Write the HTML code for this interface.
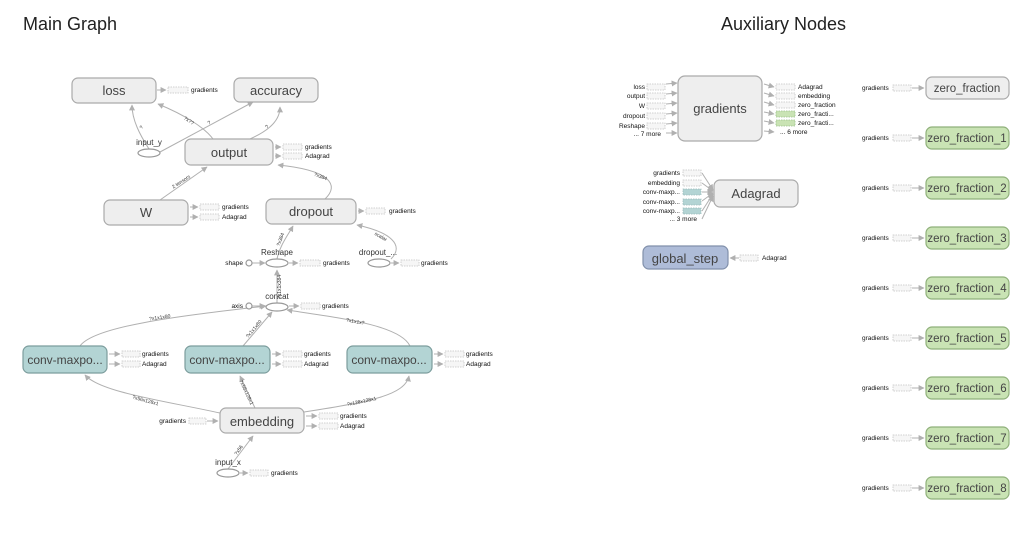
<!DOCTYPE html>
<html><head><meta charset="utf-8"><style>
body{margin:0;background:#fff;}
svg{display:block;font-family:"Liberation Sans",Arial,sans-serif;}
.t{font-size:18px;fill:#222;}
.n{fill:#eee;stroke:#aaa;stroke-width:1.2;}
.c{fill:#b3d4d4;stroke:#7c9d9d;stroke-width:1.2;}
.g{fill:#c9e3b4;stroke:#8fb07a;stroke-width:1.2;}
.b{fill:#aebcd8;stroke:#8190ab;stroke-width:1.2;}
.nl{font-size:13px;fill:#444;text-anchor:middle;}
.zf{font-size:11.5px;}
.cv{font-size:12px;}
.s{font-size:6.5px;fill:#111;}
.sr{font-size:6.5px;fill:#111;text-anchor:end;}
.ol{font-size:8px;fill:#333;text-anchor:middle;}
.e{fill:none;stroke:#b0b0b0;stroke-width:1;}
.st{fill:#f6f6f6;stroke:#c4c4c4;stroke-width:0.8;stroke-dasharray:1.5,1;}
.stc{fill:#b3d4d4;stroke:#9bbaba;stroke-width:0.8;stroke-dasharray:1.5,1;}
.stg{fill:#c9e3b4;stroke:#9bc08a;stroke-width:0.8;stroke-dasharray:1.5,1;}
.el{fill:#fff;stroke:#999;stroke-width:1.2;}
</style></head><body>
<svg width="1035" height="540" viewBox="0 0 1035 540">
<defs><marker id="a" viewBox="0 0 10 10" refX="9" refY="5" markerWidth="6" markerHeight="6" orient="auto"><path d="M0,0L10,5L0,10z" fill="#b0b0b0"/></marker></defs>
<text class="t" x="23" y="30">Main Graph</text>
<text class="t" x="721" y="30">Auxiliary Nodes</text>

<g class="e" marker-end="url(#a)">
<path d="M149,149 C140,135 132,120 132,105"/>
<path d="M160,152 L253,102"/>
<path d="M213,139 C205,128 185,115 158,104"/>
<path d="M250,139 C270,130 280,120 280,107"/>
<path d="M160,200 L207,167"/>
<path d="M325,199 C340,185 330,170 278,165"/>
<path d="M277,259 C280,245 288,235 293,226"/>
<path d="M391,259 C405,245 390,232 357,225"/>
<path d="M277,303 L277,270"/>
<path d="M80,346 C95,325 190,315 266,306"/>
<path d="M243,346 L272,312"/>
<path d="M410,346 C400,325 340,318 287,310"/>
<path d="M220,413 C160,400 100,392 85,375"/>
<path d="M255,408 L240,376"/>
<path d="M304,412 C370,402 405,395 409,376"/>
<path d="M228,469 L253,436"/>
<path d="M157,90 L166,90"/>
<path d="M275,147 L281,147"/><path d="M275,156 L281,156"/>
<path d="M190,207 L198,207"/><path d="M190,217 L198,217"/>
<path d="M358,211 L364,211"/>
<path d="M252,263 L265,263"/><path d="M289,263 L298,263"/>
<path d="M391,263 L399,263"/>
<path d="M252,306 L265,306"/><path d="M289,306 L299,306"/>
<path d="M109,354 L120,354"/><path d="M109,364 L120,364"/>
<path d="M272,354 L281,354"/><path d="M272,364 L281,364"/>
<path d="M434,354 L443,354"/><path d="M434,364 L443,364"/>
<path d="M207,421 L218,421"/>
<path d="M306,416 L317,416"/><path d="M306,426 L317,426"/>
<path d="M240,473 L248,473"/>
</g>
<g class="ol">
<text x="143" y="128" transform="rotate(-60 143 128)" font-size="5">?</text>
<text x="188" y="122" transform="rotate(33 188 122)" font-size="5">?x??</text>
<text x="210" y="124" transform="rotate(-30 210 124)" font-size="5">?</text>
<text x="268" y="128" transform="rotate(-40 268 128)" font-size="5">?</text>
<text x="182" y="183" transform="rotate(-33 182 183)" font-size="5">2 tensors</text>
<text x="320" y="178" transform="rotate(20 320 178)" font-size="5">?x384</text>
<text x="282" y="240" transform="rotate(-70 282 240)" font-size="5">?x384</text>
<text x="380" y="238" transform="rotate(30 380 238)" font-size="5">scalar</text>
<text x="281" y="287" transform="rotate(-90 281 287)" font-size="5">?x1x1x384</text>
<text x="160" y="319" transform="rotate(-8 160 319)" font-size="5">?x1x1x80</text>
<text x="255" y="330" transform="rotate(-50 255 330)" font-size="5">?x1x1x80</text>
<text x="355" y="323" transform="rotate(10 355 323)" font-size="5">?x1x1x?</text>
<text x="145" y="402" transform="rotate(15 145 402)" font-size="5">?x56x128x1</text>
<text x="245" y="393" transform="rotate(65 245 393)" font-size="5">?x56x128x1</text>
<text x="362" y="403" transform="rotate(-12 362 403)" font-size="5">?x128x128x1</text>
<text x="240" y="451" transform="rotate(-55 240 451)" font-size="5">?x56</text>
</g>

<rect class="n" x="72" y="78" width="84" height="25" rx="6"/><text class="nl" x="114" y="95">loss</text>
<rect class="n" x="234" y="78" width="84" height="24" rx="6"/><text class="nl" x="276" y="95">accuracy</text>
<rect class="n" x="185" y="139" width="88" height="26" rx="6"/><text class="nl" x="229" y="157">output</text>
<rect class="n" x="104" y="200" width="84" height="25" rx="6"/><text class="nl" x="146" y="217">W</text>
<rect class="n" x="266" y="199" width="90" height="25" rx="6"/><text class="nl" x="311" y="216">dropout</text>
<rect class="c" x="23" y="346" width="84" height="27" rx="6"/><text class="nl cv" x="65" y="364">conv-maxpo...</text>
<rect class="c" x="185" y="346" width="85" height="27" rx="6"/><text class="nl cv" x="227" y="364">conv-maxpo...</text>
<rect class="c" x="347" y="346" width="85" height="27" rx="6"/><text class="nl cv" x="389" y="364">conv-maxpo...</text>
<rect class="n" x="220" y="408" width="84" height="25" rx="6"/><text class="nl" x="262" y="426">embedding</text>

<ellipse class="el" cx="149" cy="153" rx="11" ry="4"/><text class="ol" x="149" y="145">input_y</text>
<ellipse class="el" cx="277" cy="263" rx="11" ry="4"/><text class="ol" x="277" y="255">Reshape</text>
<circle class="el" cx="249" cy="263" r="3"/><text class="sr" x="243" y="265">shape</text>
<ellipse class="el" cx="379" cy="263" rx="11" ry="4"/><text class="ol" x="378" y="255">dropout_...</text>
<ellipse class="el" cx="277" cy="307" rx="11" ry="4"/><text class="ol" x="277" y="299">concat</text>
<circle class="el" cx="249" cy="306" r="3"/><text class="sr" x="243" y="308">axis</text>
<ellipse class="el" cx="228" cy="473" rx="11" ry="4"/><text class="ol" x="228" y="465">input_x</text>

<g>
<rect class="st" x="168" y="87" width="20" height="6"/><text class="s" x="191" y="92">gradients</text>
<rect class="st" x="283" y="144" width="19" height="6"/><text class="s" x="305" y="149">gradients</text>
<rect class="st" x="283" y="153" width="19" height="6"/><text class="s" x="305" y="158">Adagrad</text>
<rect class="st" x="200" y="204" width="19" height="6"/><text class="s" x="222" y="209">gradients</text>
<rect class="st" x="200" y="214" width="19" height="6"/><text class="s" x="222" y="219">Adagrad</text>
<rect class="st" x="366" y="208" width="19" height="6"/><text class="s" x="389" y="213">gradients</text>
<rect class="st" x="300" y="260" width="20" height="6"/><text class="s" x="323" y="265">gradients</text>
<rect class="st" x="401" y="260" width="18" height="6"/><text class="s" x="421" y="265">gradients</text>
<rect class="st" x="301" y="303" width="19" height="6"/><text class="s" x="322" y="308">gradients</text>
<rect class="st" x="122" y="351" width="18" height="6"/><text class="s" x="142" y="356">gradients</text>
<rect class="st" x="122" y="361" width="18" height="6"/><text class="s" x="142" y="366">Adagrad</text>
<rect class="st" x="283" y="351" width="19" height="6"/><text class="s" x="304" y="356">gradients</text>
<rect class="st" x="283" y="361" width="19" height="6"/><text class="s" x="304" y="366">Adagrad</text>
<rect class="st" x="445" y="351" width="19" height="6"/><text class="s" x="466" y="356">gradients</text>
<rect class="st" x="445" y="361" width="19" height="6"/><text class="s" x="466" y="366">Adagrad</text>
<text class="sr" x="186" y="423">gradients</text><rect class="st" x="189" y="418" width="17" height="6"/>
<rect class="st" x="319" y="413" width="19" height="6"/><text class="s" x="340" y="418">gradients</text>
<rect class="st" x="319" y="423" width="19" height="6"/><text class="s" x="340" y="428">Adagrad</text>
<rect class="st" x="250" y="470" width="18" height="6"/><text class="s" x="271" y="475">gradients</text>
</g>

<g class="e" marker-end="url(#a)">
<path d="M666,84 L677,83"/><path d="M666,94 L677,93"/><path d="M666,104 L677,103"/>
<path d="M666,114 L677,113"/><path d="M666,124 L677,123"/><path d="M666,133 L677,133"/>
<path d="M764,84 L774,87"/><path d="M764,93 L774,96"/><path d="M764,102 L774,105"/>
<path d="M764,112 L774,114"/><path d="M764,121 L774,123"/><path d="M764,131 L774,132"/>
<path d="M702,173 L713,190"/><path d="M702,183 L713,191"/><path d="M702,192 L713,192"/>
<path d="M702,201 L713,193"/><path d="M702,211 L713,194"/><path d="M702,219 L713,196"/>
<path d="M739,258 L730,258"/>
</g>
<rect class="n" x="678" y="76" width="84" height="65" rx="7"/><text class="nl" x="720" y="113">gradients</text>
<text class="sr" x="645" y="89">loss</text><rect class="st" x="647" y="84" width="18" height="6"/>
<text class="sr" x="645" y="98">output</text><rect class="st" x="647" y="93" width="18" height="6"/>
<text class="sr" x="645" y="108">W</text><rect class="st" x="647" y="103" width="18" height="6"/>
<text class="sr" x="645" y="118">dropout</text><rect class="st" x="647" y="113" width="18" height="6"/>
<text class="sr" x="645" y="128">Reshape</text><rect class="st" x="647" y="123" width="18" height="6"/>
<text class="sr" x="661" y="136">... 7 more</text>
<rect class="st" x="776" y="84" width="19" height="6"/><text class="s" x="798" y="89">Adagrad</text>
<rect class="st" x="776" y="93" width="19" height="6"/><text class="s" x="798" y="98">embedding</text>
<rect class="st" x="776" y="102" width="19" height="6"/><text class="s" x="798" y="107">zero_fraction</text>
<rect class="stg" x="776" y="111" width="19" height="6"/><text class="s" x="798" y="116">zero_fracti...</text>
<rect class="stg" x="776" y="120" width="19" height="6"/><text class="s" x="798" y="125">zero_fracti...</text>
<text class="s" x="780" y="134">... 6 more</text>

<rect class="n" x="714" y="180" width="84" height="27" rx="6"/><text class="nl" x="756" y="198">Adagrad</text>
<text class="sr" x="680" y="175">gradients</text><rect class="st" x="683" y="170" width="18" height="6"/>
<text class="sr" x="680" y="185">embedding</text><rect class="st" x="683" y="180" width="18" height="6"/>
<text class="sr" x="680" y="194">conv-maxp...</text><rect class="stc" x="683" y="189" width="18" height="6"/>
<text class="sr" x="680" y="204">conv-maxp...</text><rect class="stc" x="683" y="199" width="18" height="6"/>
<text class="sr" x="680" y="213">conv-maxp...</text><rect class="stc" x="683" y="208" width="18" height="6"/>
<text class="sr" x="697" y="221">... 3 more</text>

<rect class="b" x="643" y="246" width="85" height="23" rx="6"/><text class="nl" x="685" y="263">global_step</text>
<rect class="st" x="740" y="255" width="18" height="6"/><text class="s" x="762" y="260">Adagrad</text>

<g class="e" marker-end="url(#a)">
<path d="M912,88 L924,88"/><path d="M912,138 L924,138"/><path d="M912,188 L924,188"/>
<path d="M912,238 L924,238"/><path d="M912,288 L924,288"/><path d="M912,338 L924,338"/>
<path d="M912,388 L924,388"/><path d="M912,438 L924,438"/><path d="M912,488 L924,488"/>
</g>
<g>
<rect class="n" x="926" y="77" width="83" height="22" rx="6"/><text class="nl zf" x="967" y="92">zero_fraction</text>
<rect class="g" x="926" y="127" width="83" height="22" rx="6"/><text class="nl zf" x="967" y="142">zero_fraction_1</text>
<rect class="g" x="926" y="177" width="83" height="22" rx="6"/><text class="nl zf" x="967" y="192">zero_fraction_2</text>
<rect class="g" x="926" y="227" width="83" height="22" rx="6"/><text class="nl zf" x="967" y="242">zero_fraction_3</text>
<rect class="g" x="926" y="277" width="83" height="22" rx="6"/><text class="nl zf" x="967" y="292">zero_fraction_4</text>
<rect class="g" x="926" y="327" width="83" height="22" rx="6"/><text class="nl zf" x="967" y="342">zero_fraction_5</text>
<rect class="g" x="926" y="377" width="83" height="22" rx="6"/><text class="nl zf" x="967" y="392">zero_fraction_6</text>
<rect class="g" x="926" y="427" width="83" height="22" rx="6"/><text class="nl zf" x="967" y="442">zero_fraction_7</text>
<rect class="g" x="926" y="477" width="83" height="22" rx="6"/><text class="nl zf" x="967" y="492">zero_fraction_8</text>
</g>
<g>
<text class="s" x="862" y="90">gradients</text><rect class="st" x="893" y="85" width="18" height="6"/>
<text class="s" x="862" y="140">gradients</text><rect class="st" x="893" y="135" width="18" height="6"/>
<text class="s" x="862" y="190">gradients</text><rect class="st" x="893" y="185" width="18" height="6"/>
<text class="s" x="862" y="240">gradients</text><rect class="st" x="893" y="235" width="18" height="6"/>
<text class="s" x="862" y="290">gradients</text><rect class="st" x="893" y="285" width="18" height="6"/>
<text class="s" x="862" y="340">gradients</text><rect class="st" x="893" y="335" width="18" height="6"/>
<text class="s" x="862" y="390">gradients</text><rect class="st" x="893" y="385" width="18" height="6"/>
<text class="s" x="862" y="440">gradients</text><rect class="st" x="893" y="435" width="18" height="6"/>
<text class="s" x="862" y="490">gradients</text><rect class="st" x="893" y="485" width="18" height="6"/>
</g>
</svg>
</body></html>
